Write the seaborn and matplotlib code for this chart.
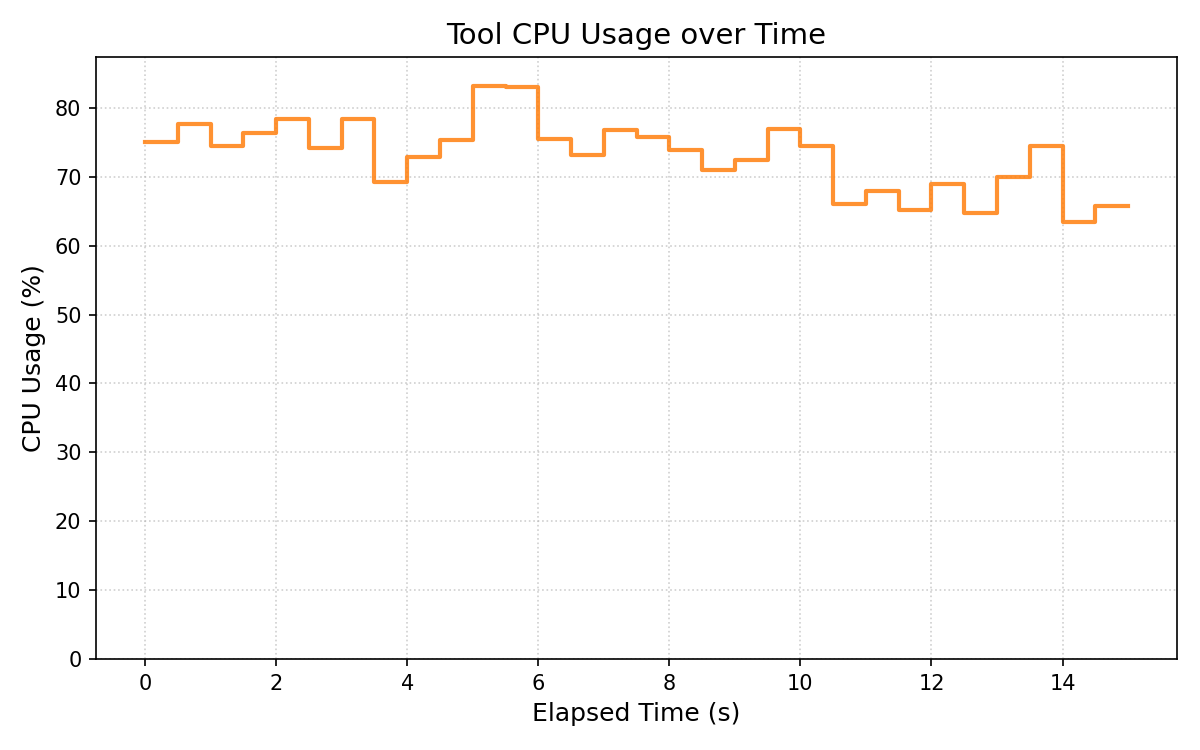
import pandas as pd
import matplotlib
matplotlib.use("Agg")
import matplotlib.pyplot as plt
import seaborn as sns

# samples every 0.5 s
elapsed = [0.0, 0.5, 1.0, 1.5, 2.0, 2.5, 3.0, 3.5, 4.0, 4.5,
           5.0, 5.5, 6.0, 6.5, 7.0, 7.5, 8.0, 8.5, 9.0, 9.5,
           10.0, 10.5, 11.0, 11.5, 12.0, 12.5, 13.0, 13.5, 14.0, 14.5, 15.0]
cpu_usage = [75.0, 77.7, 74.5, 76.3, 78.3, 74.1, 78.3, 69.2, 72.8, 75.3,
             83.2, 83.0, 75.4, 73.1, 76.7, 75.8, 73.8, 71.0, 72.4, 76.9,
             74.4, 66.1, 67.9, 65.1, 69.0, 64.7, 70.0, 74.4, 63.4, 65.7, 65.7]

df = pd.DataFrame({"Elapsed Time (s)": elapsed, "CPU Usage (%)": cpu_usage})

fig, ax = plt.subplots(figsize=(8, 5), dpi=150)
sns.lineplot(data=df, x="Elapsed Time (s)", y="CPU Usage (%)", ax=ax,
             drawstyle="steps-post", color="tab:orange", alpha=0.85,
             linewidth=2, estimator=None)
ax.set_title("Tool CPU Usage over Time", fontsize=14)
ax.set_xlabel("Elapsed Time (s)", fontsize=12)
ax.set_ylabel("CPU Usage (%)", fontsize=12)
ax.set_ylim(0, max(cpu_usage) * 1.05)
ax.grid(True, linestyle=":", color="#b0b0b0", alpha=0.6)
fig.subplots_adjust(left=0.08, right=0.981, top=0.924, bottom=0.121)
fig.savefig("out.png")
